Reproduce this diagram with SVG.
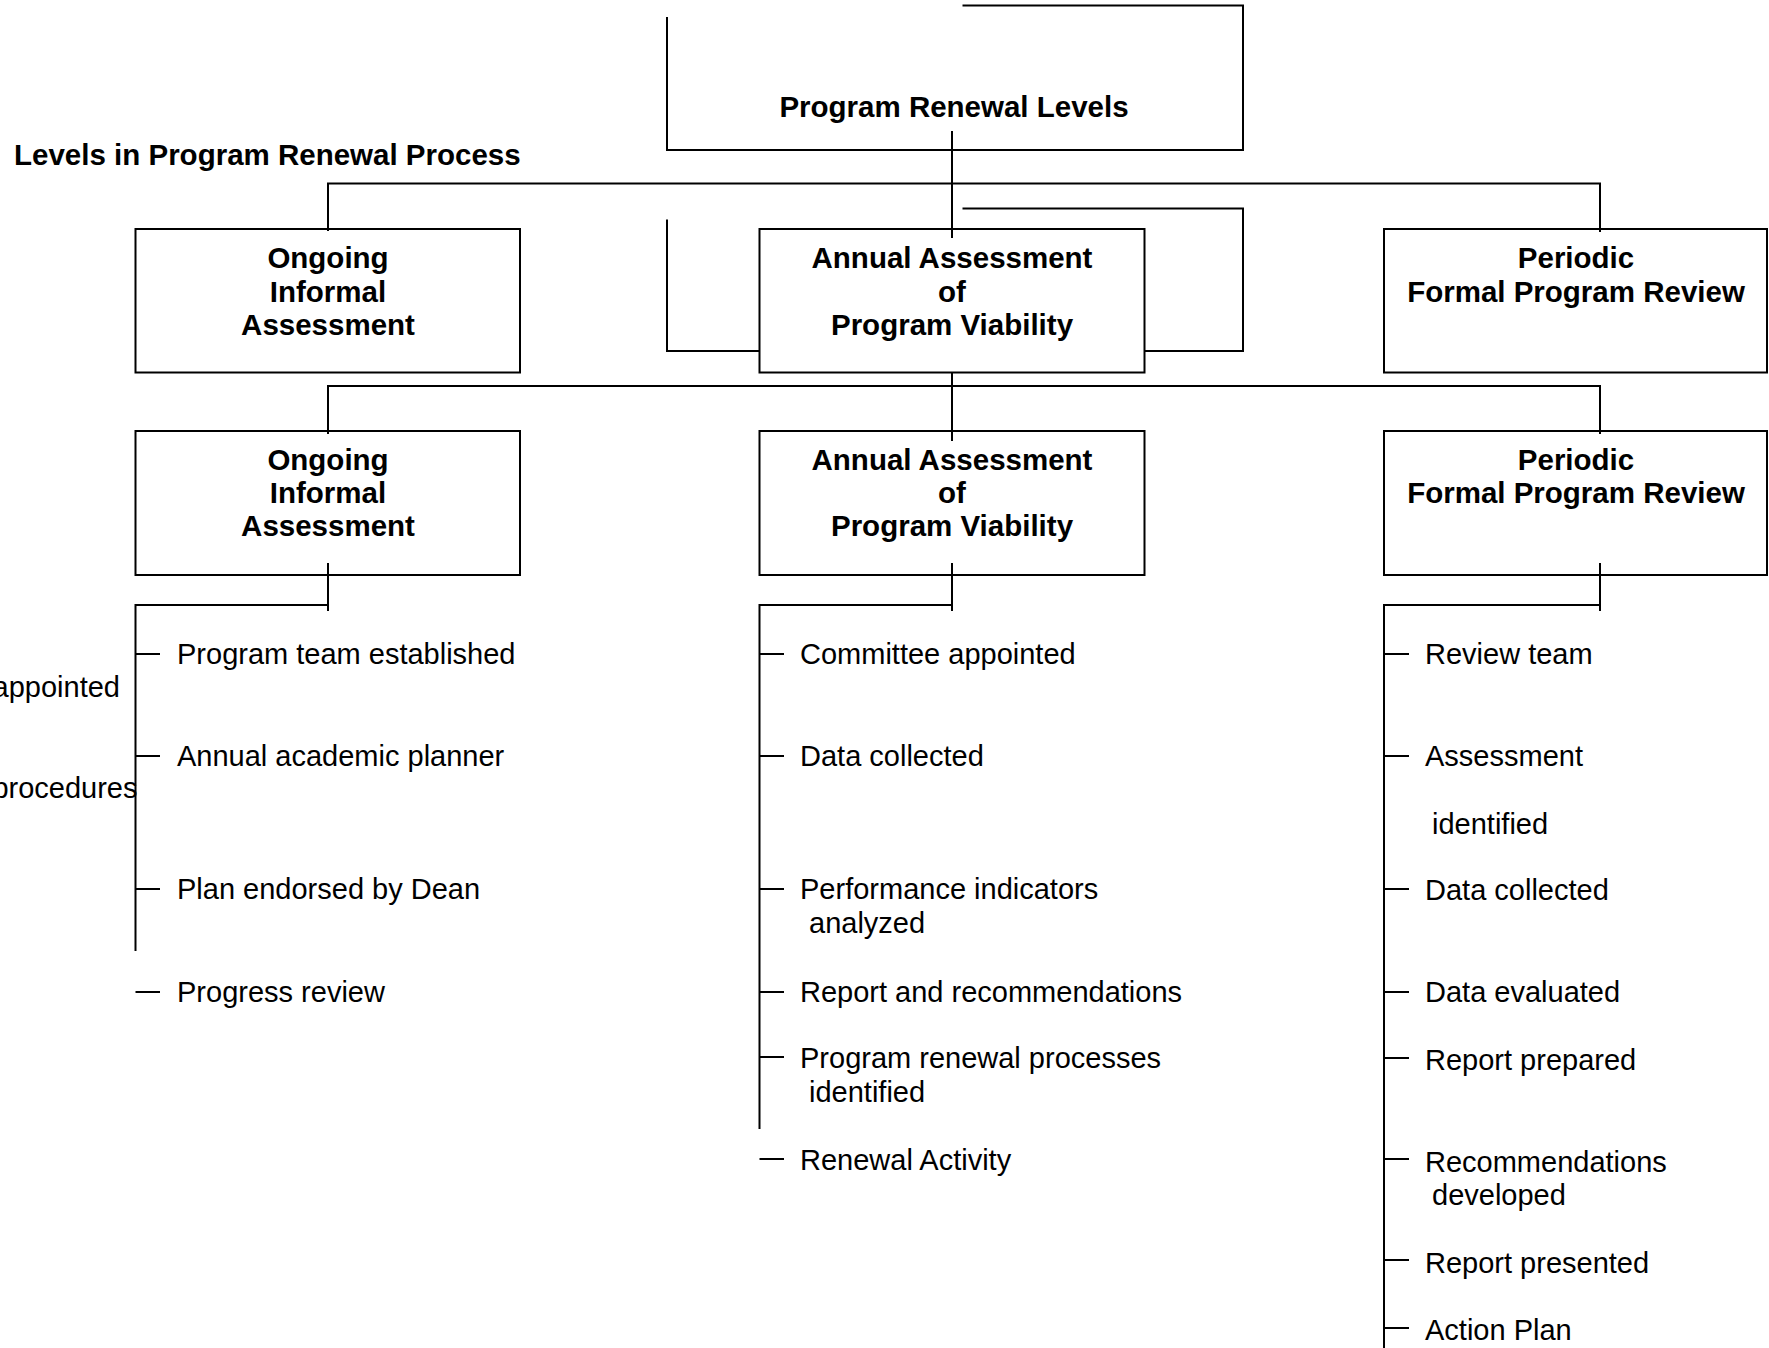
<svg xmlns="http://www.w3.org/2000/svg" width="1769" height="1348" viewBox="0 0 1769 1348">
<style>
  .ln { fill: none; stroke: #000; stroke-width: 2; }
  .box { fill: #fff; stroke: #000; stroke-width: 2; }
  .bt { font-family: "Liberation Sans", Arial, sans-serif; font-weight: bold; font-size: 29.5px; fill: #000; text-anchor: middle; }
  .hd { font-family: "Liberation Sans", Arial, sans-serif; font-weight: bold; font-size: 29.5px; fill: #000; }
  .it { font-family: "Liberation Sans", Arial, sans-serif; font-size: 29px; fill: #000; }
  .itr { font-family: "Liberation Sans", Arial, sans-serif; font-size: 29px; fill: #000; text-anchor: end; }
</style>
<rect width="1769" height="1348" fill="#fff"/>

<g id="title-node">
  <path class="ln" d="M962.5,5.5 H1243 V150 H667 V17"/>
  <text class="bt" x="954" y="117">Program Renewal Levels</text>
</g>

<g id="heading">
  <text class="hd" x="14" y="165">Levels in Program Renewal Process</text>
</g>

<g id="frame-copy">
  <path class="ln" d="M962.5,208.5 H1243 V351 H667 V219.5"/>
</g>

<g id="row1-ongoing">
  <rect class="box" x="135.5" y="229" width="384.5" height="143.5"/>
  <text class="bt" x="328" y="268">Ongoing</text>
  <text class="bt" x="328" y="302">Informal</text>
  <text class="bt" x="328" y="335">Assessment</text>
</g>
<g id="row1-annual">
  <rect class="box" x="759.5" y="229" width="385" height="143.5"/>
  <text class="bt" x="952" y="268">Annual Assessment</text>
  <text class="bt" x="952" y="302">of</text>
  <text class="bt" x="952" y="335">Program Viability</text>
</g>
<g id="row1-periodic">
  <rect class="box" x="1384" y="229" width="383" height="143.5"/>
  <text class="bt" x="1576" y="268">Periodic</text>
  <text class="bt" x="1576" y="302">Formal Program Review</text>
</g>

<g id="row2-ongoing">
  <rect class="box" x="135.5" y="431" width="384.5" height="144"/>
  <text class="bt" x="328" y="470">Ongoing</text>
  <text class="bt" x="328" y="503">Informal</text>
  <text class="bt" x="328" y="536">Assessment</text>
</g>
<g id="row2-annual">
  <rect class="box" x="759.5" y="431" width="385" height="144"/>
  <text class="bt" x="952" y="470">Annual Assessment</text>
  <text class="bt" x="952" y="503">of</text>
  <text class="bt" x="952" y="536">Program Viability</text>
</g>
<g id="row2-periodic">
  <rect class="box" x="1384" y="431" width="383" height="144"/>
  <text class="bt" x="1576" y="470">Periodic</text>
  <text class="bt" x="1576" y="503">Formal Program Review</text>
</g>

<g id="connectors">
  <path class="ln" d="M952,131 V238"/>
  <path class="ln" d="M328,231 V183.5 H1600 V232"/>
  <path class="ln" d="M952,372 V441"/>
  <path class="ln" d="M328,434 V386 H1600 V434"/>
  <path class="ln" d="M328,563 V611"/>
  <path class="ln" d="M952,563 V611"/>
  <path class="ln" d="M1600,563 V611"/>
  <path class="ln" d="M135.5,951 V605 H328"/>
  <path class="ln" d="M759.5,1129 V605 H952"/>
  <path class="ln" d="M1384,1348 V605 H1600"/>
  <path class="ln" d="M135.5,654 H160 M135.5,756 H160 M135.5,889 H160 M135.5,992 H160"/>
  <path class="ln" d="M759.5,654 H784 M759.5,756 H784 M759.5,889 H784 M759.5,992 H784 M759.5,1057 H784 M759.5,1159 H784"/>
  <path class="ln" d="M1384,654 H1409 M1384,756 H1409 M1384,889 H1409 M1384,992 H1409 M1384,1058 H1409 M1384,1159 H1409 M1384,1260 H1409 M1384,1328 H1409"/>
</g>

<g id="list-ongoing">
  <text class="it" x="177" y="664">Program team established</text>
  <text class="itr" x="120" y="697">appointed</text>
  <text class="it" x="177" y="766">Annual academic planner</text>
  <text class="itr" x="137.5" y="798">procedures</text>
  <text class="it" x="177" y="899">Plan endorsed by Dean</text>
  <text class="it" x="177" y="1002">Progress review</text>
</g>

<g id="list-annual">
  <text class="it" x="800" y="664">Committee appointed</text>
  <text class="it" x="800" y="766">Data collected</text>
  <text class="it" x="800" y="899">Performance indicators</text>
  <text class="it" x="809" y="933">analyzed</text>
  <text class="it" x="800" y="1002">Report and recommendations</text>
  <text class="it" x="800" y="1068">Program renewal processes</text>
  <text class="it" x="809" y="1102">identified</text>
  <text class="it" x="800" y="1170">Renewal Activity</text>
</g>

<g id="list-periodic">
  <text class="it" x="1425" y="664">Review team</text>
  <text class="it" x="1425" y="766">Assessment</text>
  <text class="it" x="1432" y="834">identified</text>
  <text class="it" x="1425" y="900">Data collected</text>
  <text class="it" x="1425" y="1002">Data evaluated</text>
  <text class="it" x="1425" y="1070">Report prepared</text>
  <text class="it" x="1425" y="1172">Recommendations</text>
  <text class="it" x="1432" y="1205">developed</text>
  <text class="it" x="1425" y="1273">Report presented</text>
  <text class="it" x="1425" y="1340">Action Plan</text>
</g>
</svg>
